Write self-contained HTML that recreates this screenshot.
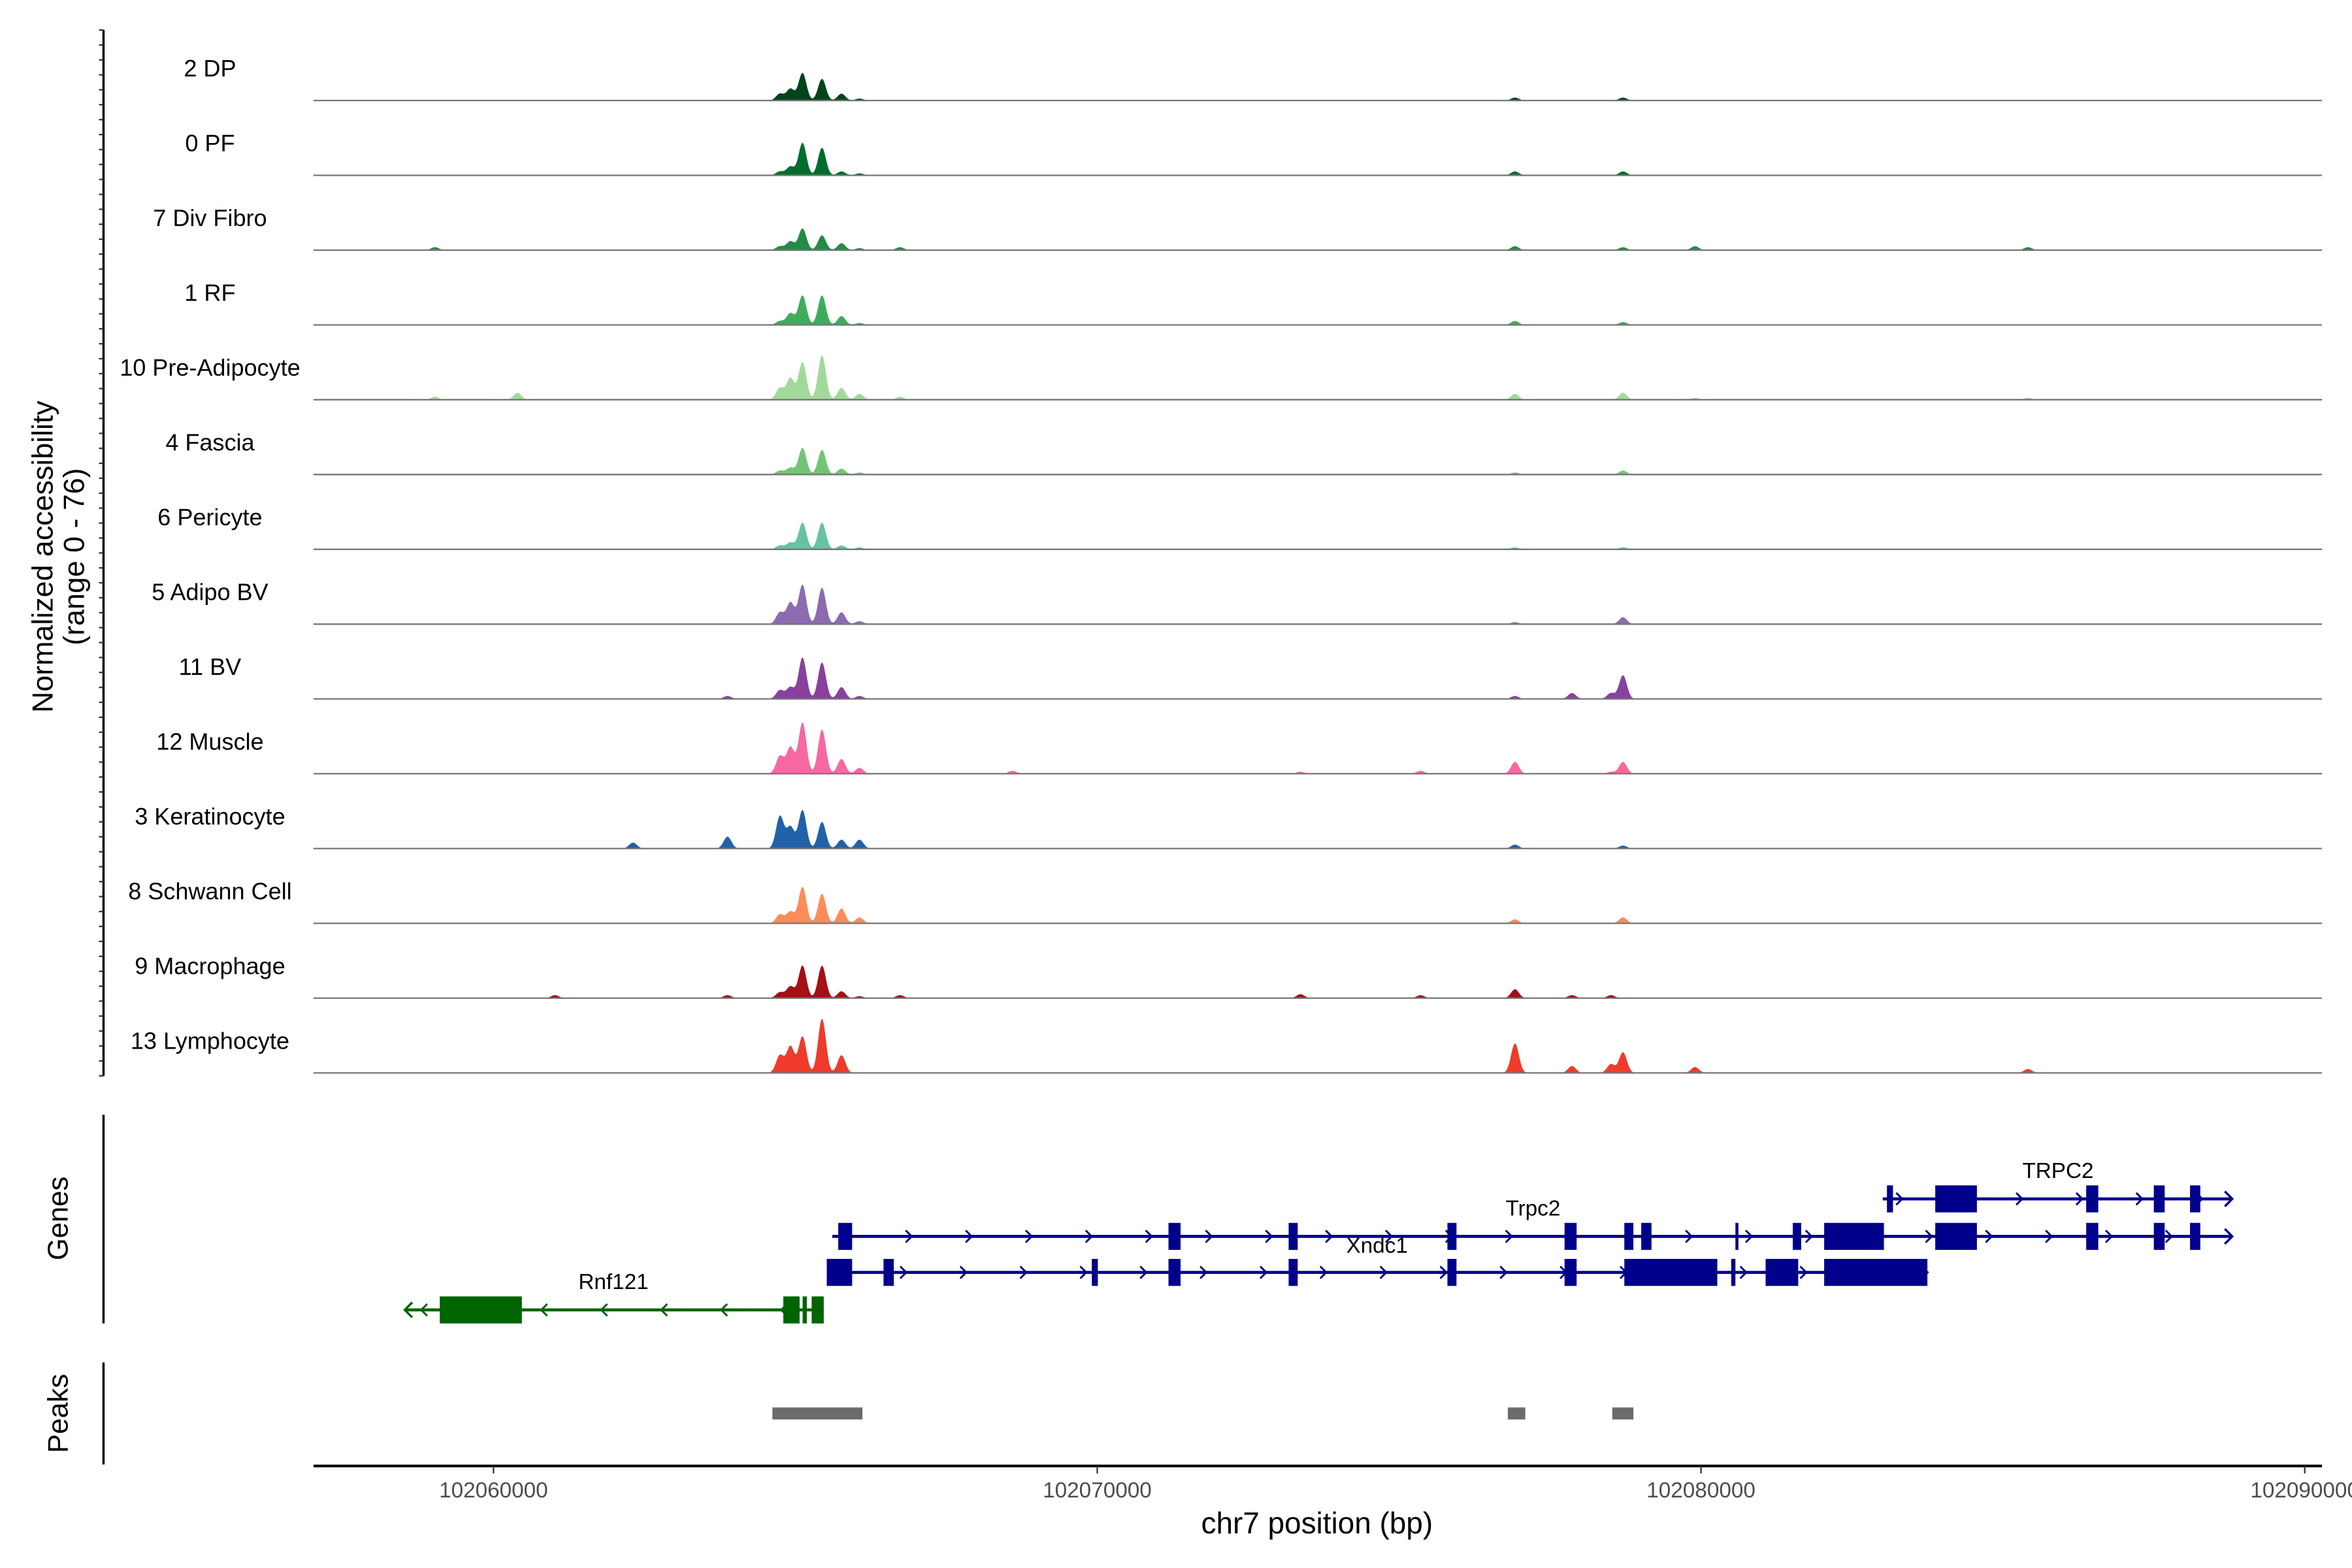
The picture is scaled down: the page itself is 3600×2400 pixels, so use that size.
<!DOCTYPE html>
<html><head><meta charset="utf-8"><style>
html,body{margin:0;padding:0;background:#fff}
svg{display:block}
text{font-family:"Liberation Sans",Arial,sans-serif}
</style></head><body>
<svg id="chart" xmlns="http://www.w3.org/2000/svg" width="3600" height="2400" viewBox="0 0 1568 1045" preserveAspectRatio="none">
<rect width="1568" height="1045" fill="#fff"/>
<g id="tracks"></g>
<g id="genes"></g>
<g id="peaks"></g>
<g id="axes"></g>
</svg>
<script>
const trackNames = ["2 DP","0 PF","7 Div Fibro","1 RF","10 Pre-Adipocyte","4 Fascia","6 Pericyte","5 Adipo BV","11 BV","12 Muscle","3 Keratinocyte","8 Schwann Cell","9 Macrophage","13 Lymphocyte"];
const trackColors = ["#00441b","#006d2c","#238b45","#41ab5d","#a1d99b","#74c476","#66c2a4","#8c6bb1","#88419d","#f768a1","#2161a8","#fc8d59","#a50f15","#ef3b2c"];
const peakPositions = [102059031,102060398,102061019,102062311,102063876,102064745,102064919,102065118,102065441,102065764,102066062,102066733,102068596,102073367,102075355,102076919,102077863,102078509,102078708,102079901,102085416];
const vDP   = [0,0,0,0,0,7,12,28,22,7,2,0,0,0,0,3,0,0,3,0,0];
const vPF   = [0,0,0,0,0,4,9,33,28,4,2,0,0,0,0,4,0,0,4,0,0];
const vDiv  = [3,0,0,0,0,4,9,22,15,7,2,3,0,0,0,4,0,0,3,4,3];
const vRF   = [0,0,0,0,0,4,12,30,30,9,2,0,0,0,0,4,0,0,3,0,0];
const vPre  = [3,7,0,0,0,12,22,38,45,12,6,3,0,0,0,6,0,0,7,2,2];
const vFas  = [0,0,0,0,0,4,7,27,25,6,2,0,0,0,0,2,0,0,4,0,0];
const vPer  = [0,0,0,0,0,4,7,27,27,4,2,0,0,0,0,2,0,0,2,0,0];
const vABV  = [0,0,0,0,0,12,22,40,37,12,3,0,0,0,0,2,0,0,7,0,0];
const vBV   = [0,0,0,0,3,9,12,42,37,12,3,0,0,0,0,3,6,6,24,0,0];
const vMus  = [0,0,0,0,0,18,27,52,45,15,6,0,3,2,3,12,0,2,12,0,0];
const vKer  = [0,0,0,6,12,33,22,39,27,9,9,0,0,0,0,4,0,0,3,0,0];
const vSch  = [0,0,0,0,0,9,12,37,30,15,6,0,0,0,0,4,0,0,6,0,0];
const vMac  = [0,0,3,0,3,6,12,33,33,7,2,3,0,4,3,9,3,3,0,0,0];
const vLym  = [0,0,0,0,0,18,27,37,55,18,0,0,0,0,0,30,7,9,21,6,4];
const trackValues = [vDP,vPF,vDiv,vRF,vPre,vFas,vPer,vABV,vBV,vMus,vKer,vSch,vMac,vLym];
const xTicks = [102060000,102070000,102080000,102090000];
const xTickLabels = ["102060000","102070000","102080000","102090000"];
const rnf121Exons = [[-0.89,0.47],[4.80,5.07],[5.12,5.19],[5.27,5.47]];
const xndc1Exons = [[5.52,5.94],[6.46,6.63],[9.91,10.01],[11.18,11.38],[13.17,13.32],[15.80,15.95],[17.74,17.94],[18.73,20.27],[20.50,20.57],[21.07,21.61],[22.04,23.75]];
const trpc2Exons = [[5.71,5.94],[11.18,11.38],[13.17,13.32],[15.80,15.95],[17.74,17.94],[18.73,18.88],[19.01,19.18],[20.57,20.62],[21.52,21.66],[22.04,23.03],[23.88,24.57],[26.38,26.58],[27.50,27.68],[28.10,28.27]];
const TRPC2Exons = [[23.08,23.18],[23.88,24.57],[26.38,26.58],[27.50,27.68],[28.10,28.27]];
const peakRegions = [[4.62,6.11],[16.80,17.09],[18.53,18.88]];

const NS="http://www.w3.org/2000/svg";
function mk(tag,attrs,parent){const e=document.createElementNS(NS,tag);for(const k in attrs)e.setAttribute(k,attrs[k]);parent.appendChild(e);return e;}
const X0=209,X1=1548;
function xs(bp){return 329+(bp-102060000)/1000*40.25;}
function xk(kb){return xs(102060000+kb*1000);}
const YMAX=76, TRACK_H=49.85, FIRST_BASE=67;
function ys(v,i){return FIRST_BASE+i*TRACK_H - v/YMAX*TRACK_H;}

const tracks=document.getElementById('tracks');
trackNames.forEach((name,i)=>{
  const base=FIRST_BASE+i*TRACK_H;
  const vals=trackValues[i];
  let d=`M${X0},${base}`;
  for(let x=X0;x<=X1;x+=0.5){
    let v=0;
    peakPositions.forEach((p,j)=>{const dx=(x-xs(p));const s=2.6;v+=vals[j]*Math.exp(-dx*dx/(2*s*s));});
    d+=`L${x},${ys(v,i).toFixed(2)}`;
  }
  d+=`L${X1},${base}Z`;
  const p=mk('path',{d:d,fill:trackColors[i]},tracks);
  
  
  const l=mk('line',{x1:X0,x2:X1,y1:base,y2:base,stroke:'#777','stroke-width':1},tracks);
  
  
  const t=mk('text',{x:140,y:base-16,'text-anchor':'middle','font-size':15.7,fill:'#000'},tracks);
  t.textContent=name;
  
  
});

const genes=document.getElementById('genes');
function drawGene(name,exons,y,startKb,endKb,color,dir,label,lx,ly){
  const g=mk('g',{},genes);
  
  
  mk('line',{x1:xk(startKb),x2:xk(endKb),y1:y,y2:y,stroke:color,'stroke-width':2},g);
  for(let x=xk(startKb)+12;x<xk(endKb)-8;x+=40){
    const a=dir>0?`M${x-3},${y-4}L${x+1},${y}L${x-3},${y+4}`:`M${x+3},${y-4}L${x-1},${y}L${x+3},${y+4}`;
    mk('path',{d:a,stroke:color,fill:'none','stroke-width':1.3},g);
  }
  const ex=dir>0?xk(endKb):xk(startKb);
  mk('path',{d:dir>0?`M${ex-5},${y-5}L${ex},${y}L${ex-5},${y+5}`:`M${ex+5},${y-5}L${ex},${y}L${ex+5},${y+5}`,stroke:color,fill:'none','stroke-width':1.5},g);
  exons.forEach(e=>mk('rect',{x:xk(e[0]),y:y-9,width:Math.max(1.5,xk(e[1])-xk(e[0])),height:18,fill:color},g));
  const t=mk('text',{x:lx,y:ly,'text-anchor':'middle','font-size':14.5,fill:'#000'},g);
  t.textContent=label;
}
drawGene('Rnf121',rnf121Exons,873,-1.47,5.47,'#006400',-1,'Rnf121',409,859);
drawGene('Xndc1',xndc1Exons,848,5.52,23.75,'#00008b',1,'Xndc1',918,835);
drawGene('Trpc2',trpc2Exons,824,5.61,28.80,'#00008b',1,'Trpc2',1022,810);
drawGene('TRPC2',TRPC2Exons,799,23.01,28.80,'#00008b',1,'TRPC2',1372,785);

const peaks=document.getElementById('peaks');
peakRegions.forEach(r=>{
  const p=mk('rect',{x:xk(r[0]),y:938,width:xk(r[1])-xk(r[0]),height:8,fill:'#6b6b6b'},peaks);
  
  
});

const axes=document.getElementById('axes');
mk('line',{x1:69,x2:69,y1:20,y2:717,stroke:'#000','stroke-width':1.5},axes);
for(let k=0;k<=70;k++){const y=20+k*(697/70);mk('line',{x1:66,x2:69,y1:y,y2:y,stroke:'#333','stroke-width':1},axes);}
mk('line',{x1:69,x2:69,y1:743,y2:882,stroke:'#000','stroke-width':1.5},axes);
mk('line',{x1:69,x2:69,y1:908,y2:976,stroke:'#000','stroke-width':1.5},axes);
const yt=mk('text',{x:0,y:0,transform:'translate(35,371) rotate(-90)','text-anchor':'middle','font-size':19.5,fill:'#000'},axes);


yt.innerHTML='<tspan x="0" dy="0">Normalized accessibility</tspan><tspan x="0" dy="21">(range 0 - 76)</tspan>';
const gt=mk('text',{transform:'translate(45,812) rotate(-90)','text-anchor':'middle','font-size':19,fill:'#000'},axes);
gt.textContent='Genes';


const pt=mk('text',{transform:'translate(45,942) rotate(-90)','text-anchor':'middle','font-size':19,fill:'#000'},axes);
pt.textContent='Peaks';


mk('line',{x1:X0,x2:X1,y1:977,y2:977,stroke:'#000','stroke-width':1.8},axes);
xTicks.forEach((t,i)=>{
  const x=xs(t);
  mk('line',{x1:x,x2:x,y1:977,y2:982,stroke:'#333','stroke-width':1},axes);
  const tl=mk('text',{x:x,y:998,'text-anchor':'middle','font-size':14.5,fill:'#4d4d4d'},axes);
  tl.textContent=xTickLabels[i];
  
  
});
const xt=mk('text',{x:878,y:1022,'text-anchor':'middle','font-size':20,fill:'#000'},axes);
xt.textContent='chr7 position (bp)';


</script>
</body></html>
